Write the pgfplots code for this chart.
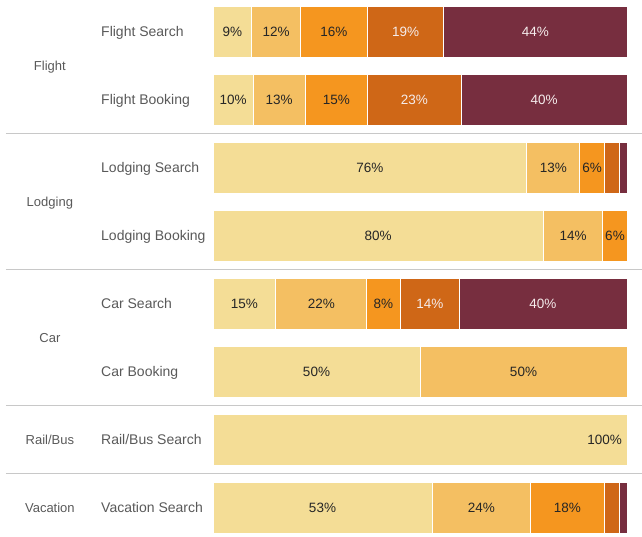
\documentclass[border=0pt]{standalone}
\usepackage{fontspec}
\setmainfont{Liberation Sans}
\usepackage{pgfplots}
\pgfplotsset{compat=1.18}
\definecolor{cA}{HTML}{F4DD96}
\definecolor{cB}{HTML}{F4BF62}
\definecolor{cC}{HTML}{F5961F}
\definecolor{cD}{HTML}{CF6717}
\definecolor{cE}{HTML}{772E3F}
\definecolor{sep}{HTML}{C8C8C8}
\definecolor{lbl}{HTML}{595959}
\definecolor{dk}{HTML}{262626}
\definecolor{wt}{HTML}{F5ECEC}
\begin{document}
\begin{tikzpicture}[x=1pt,y=1pt]
\useasboundingbox (0,0) rectangle (642,537);
\pgfplotsset{common/.style={at={(213pt,-4.7pt)}, anchor=south west, scale only axis,
  width=414pt, height=544pt, xmin=0, xmax=100, ymin=-0.5, ymax=7.5, y dir=reverse,
  hide axis, clip=false}}
\tikzset{sub/.style={anchor=base west, yshift=-5pt, text=lbl, font=\fontsize{14}{16}\selectfont, inner sep=0pt},
  grp/.style={anchor=base, yshift=-4.65pt, text=lbl, font=\fontsize{13}{15}\selectfont, inner sep=0pt}}
\begin{axis}[common, xbar stacked, bar width=51pt,
  every axis plot/.append style={draw=white, line width=1pt}]
\addplot[fill=cA] coordinates {(9.4,0) (9.7,1) (75.8,2) (79.8,3) (15.2,4) (50,5) (100,6) (52.9,7)};
\addplot[fill=cB] coordinates {(11.7,0) (12.6,1) (12.8,2) (14.4,3) (21.9,4) (50,5) (0,6) (23.8,7)};
\addplot[fill=cC] coordinates {(16.2,0) (15,1) (5.9,2) (5.8,3) (8.1,4) (0,5) (0,6) (17.8,7)};
\addplot[fill=cD] coordinates {(18.4,0) (22.7,1) (3.6,2) (0,3) (14.4,4) (0,5) (0,6) (3.7,7)};
\addplot[fill=cE] coordinates {(44.3,0) (40,1) (1.9,2) (0,3) (40.4,4) (0,5) (0,6) (1.8,7)};
% separators
\draw[sep, line width=1pt] (axis cs:-50,1.5) -- (axis cs:103.6,1.5);
\draw[sep, line width=1pt] (axis cs:-50,3.5) -- (axis cs:103.6,3.5);
\draw[sep, line width=1pt] (axis cs:-50,5.5) -- (axis cs:103.6,5.5);
\draw[sep, line width=1pt] (axis cs:-50,6.5) -- (axis cs:103.6,6.5);
% sub labels
\node[sub] at (axis cs:-27.05,0) {Flight Search};
\node[sub] at (axis cs:-27.05,1) {Flight Booking};
\node[sub] at (axis cs:-27.05,2) {Lodging Search};
\node[sub] at (axis cs:-27.05,3) {Lodging Booking};
\node[sub] at (axis cs:-27.05,4) {Car Search};
\node[sub] at (axis cs:-27.05,5) {Car Booking};
\node[sub] at (axis cs:-27.05,6) {Rail/Bus Search};
\node[sub] at (axis cs:-27.05,7) {Vacation Search};
% group labels
\node[grp] at (axis cs:-39.4,0.5) {Flight};
\node[grp] at (axis cs:-39.4,2.5) {Lodging};
\node[grp] at (axis cs:-39.4,4.5) {Car};
\node[grp] at (axis cs:-39.4,6) {Rail/Bus};
\node[grp] at (axis cs:-39.4,7) {Vacation};
\end{axis}
\begin{axis}[common]
\addplot[draw=none, mark=none, point meta=explicit symbolic, nodes near coords,
  nodes near coords style={anchor=base, yshift=-4.8pt, inner sep=0pt, text=dk, font=\fontsize{13.5}{15}\selectfont}]
 coordinates {(4.7,0) [9\%] (15.25,0) [12\%] (29.2,0) [16\%]
  (4.85,1) [10\%] (16,1) [13\%] (29.8,1) [15\%]
  (37.9,2) [76\%] (82.2,2) [13\%] (91.55,2) [6\%]
  (39.9,3) [80\%] (87,3) [14\%] (97.1,3) [6\%]
  (7.6,4) [15\%] (26.15,4) [22\%] (41.15,4) [8\%]
  (25,5) [50\%] (75,5) [50\%]
  (26.45,7) [53\%] (64.8,7) [24\%] (85.6,7) [18\%]};
\addplot[draw=none, mark=none, point meta=explicit symbolic, nodes near coords,
  nodes near coords style={anchor=base east, yshift=-4.8pt, inner sep=0pt, text=dk, font=\fontsize{13.5}{15}\selectfont}]
 coordinates {(98.8,6) [100\%]};
\addplot[draw=none, mark=none, point meta=explicit symbolic, nodes near coords,
  nodes near coords style={anchor=base, yshift=-4.8pt, inner sep=0pt, text=wt, font=\fontsize{13.5}{15}\selectfont}]
 coordinates {(46.5,0) [19\%] (77.85,0) [44\%]
  (48.65,1) [23\%] (80,1) [40\%]
  (52.4,4) [14\%] (79.7,4) [40\%]};
\end{axis}
\end{tikzpicture}
\end{document}
